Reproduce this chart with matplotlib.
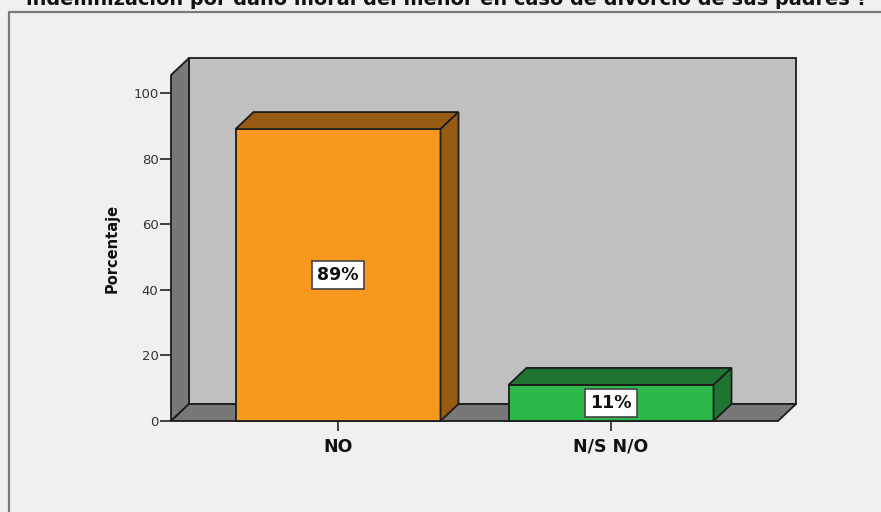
import matplotlib
matplotlib.use("Agg")
import matplotlib.pyplot as plt
from matplotlib.patches import Polygon
from matplotlib.lines import Line2D

# datos
categorias = ["NO", "N/S N/O"]
porcentajes = [89, 11]
etiquetas = ["89%", "11%"]
titulo = "indemnización por daño moral del menor en caso de divorcio de sus padres ?"
ylabel = "Porcentaje"
yticks = [0, 20, 40, 60, 80, 100]

col_front = ["#f8991e", "#2db84b"]
col_dark = ["#985b14", "#1e7431"]
bg = "#f0f0f0"
wall = "#c0c0c0"
side = "#787878"
edge = "#1c1c1c"

W, H = 881, 512
fig = plt.figure(figsize=(W / 100, H / 100), dpi=100, facecolor=bg)

# marco
fig.add_artist(Line2D([8.5 / W, 8.5 / W, 1.0], [0.0, 1 - 11.5 / H, 1 - 11.5 / H],
                      transform=fig.transFigure, color="#7a7a7a", lw=1.6))

# posicion de la caja en pixeles
px_left, px_right, px_bot, px_top = 171, 797, 421, 58
ax = fig.add_axes([px_left / W, (H - px_bot) / H, (px_right - px_left) / W, (px_bot - px_top) / H])
ax.set_facecolor("none")

cat_px = 273.0
y_px = 3.28
xlo = -(338 - px_left) / cat_px
xhi = (px_right - 338) / cat_px
ax.set_xlim(xlo, xhi)
ax.set_ylim(0, (px_bot - px_top) / y_px)

dx = 18 / cat_px
dy = 17 / y_px
xfr = (778 - 338) / cat_px
ytop = (px_bot - 75) / y_px
bw = 205 / cat_px

kw = dict(edgecolor=edge, lw=1.3, joinstyle="miter", clip_on=False)
# pared del fondo, pared izquierda, suelo
ax.add_patch(Polygon([(xlo + dx, dy), (xfr + dx, dy), (xfr + dx, ytop + dy), (xlo + dx, ytop + dy)],
                     facecolor=wall, **kw))
ax.add_patch(Polygon([(xlo, 0), (xlo + dx, dy), (xlo + dx, ytop + dy), (xlo, ytop)],
                     facecolor=side, **kw))
ax.add_patch(Polygon([(xlo, 0), (xfr, 0), (xfr + dx, dy), (xlo + dx, dy)],
                     facecolor=side, **kw))

for i, v in enumerate(porcentajes):
    x0, x1 = i - bw / 2, i + bw / 2
    ax.add_patch(Polygon([(x0, 0), (x1, 0), (x1, v), (x0, v)], facecolor=col_front[i], **kw))
    ax.add_patch(Polygon([(x0, v), (x1, v), (x1 + dx, v + dy), (x0 + dx, v + dy)],
                         facecolor=col_dark[i], **kw))
    ax.add_patch(Polygon([(x1, 0), (x1 + dx, dy), (x1 + dx, v + dy), (x1, v)],
                         facecolor=col_dark[i], **kw))
    ax.text(i, v / 2, etiquetas[i], ha="center", va="center", fontsize=12.5, fontweight="bold",
            color="#111111", zorder=5,
            bbox=dict(boxstyle="square,pad=0.3", facecolor="white", edgecolor="#444444", lw=1.2))

for s in ax.spines.values():
    s.set_visible(False)

ax.set_yticks(yticks)
ax.set_yticklabels([str(t) for t in yticks], fontsize=9.5, color="#333333")
ax.tick_params(axis="y", direction="out", length=8, width=1.2, pad=1, color="#222222")
ax.set_xticks(range(len(categorias)))
ax.set_xticklabels(categorias, fontsize=12.5, fontweight="bold", color="#111111")
ax.tick_params(axis="x", direction="out", length=7, width=1.2, pad=5, color="#222222")

fig.text(112 / W, (H - 248) / H, ylabel, rotation=90, ha="center", va="center",
         fontsize=10.5, fontweight="bold", color="#111111")

# titulo cortado en la parte superior
t = fig.text(446.5 / W, 1 - 5 / H, titulo, ha="center", va="baseline",
             fontsize=12, fontweight="bold", color="#111111")
fig.canvas.draw()
w = t.get_window_extent().width
t.set_fontsize(12 * 837 / w)

fig.savefig("out.png", dpi=100, facecolor=bg)
